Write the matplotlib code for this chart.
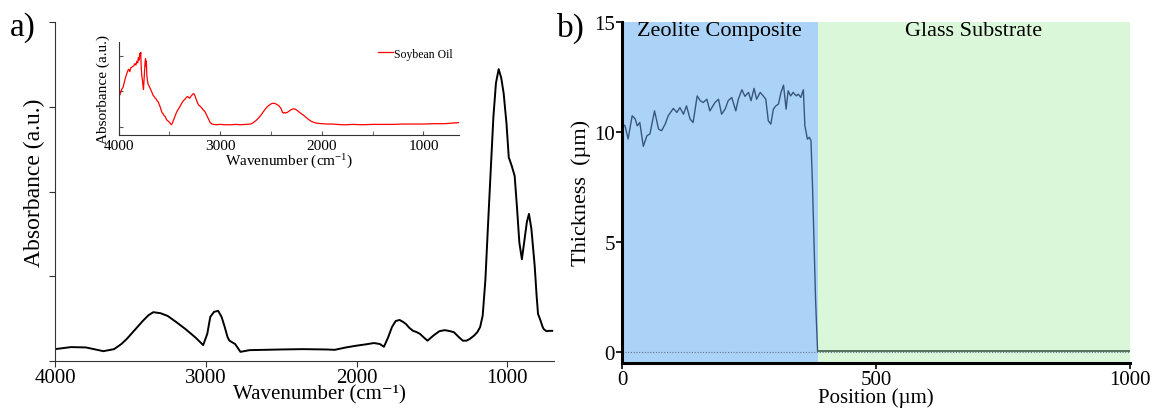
import matplotlib
matplotlib.use("Agg")
import matplotlib.pyplot as plt

plt.rcParams["font.family"] = ["Liberation Serif", "DejaVu Serif"]
plt.rcParams["mathtext.fontset"] = "custom"
plt.rcParams["mathtext.rm"] = "Liberation Serif"
plt.rcParams["mathtext.it"] = "Liberation Serif:italic"

# ---- panel a: FTIR of the composite ----
wn_main = [4000, 3894, 3795, 3679, 3608, 3560, 3524, 3470, 3418, 3380, 3348, 3300,
           3253, 3190, 3134, 3070, 3017, 2990, 2970, 2945, 2918, 2895, 2876, 2855,
           2843, 2805, 2770, 2710, 2500, 2356, 2200, 2144, 2070, 2003, 1940, 1884,
           1845, 1818, 1790, 1765, 1740, 1714, 1690, 1672, 1650, 1625, 1600, 1579,
           1550, 1529, 1490, 1450, 1414, 1380, 1354, 1320, 1295, 1270, 1249, 1220,
           1199, 1180, 1163, 1145, 1130, 1110, 1092, 1075, 1057, 1040, 1024, 1005,
           990, 986, 970, 951, 935, 920, 903, 885, 870, 856, 840, 818, 805, 796,
           780, 765, 758, 740, 720, 702]
abs_main = [0.035, 0.041, 0.040, 0.029, 0.035, 0.050, 0.065, 0.092, 0.118, 0.135, 0.144, 0.141,
            0.133, 0.113, 0.094, 0.070, 0.047, 0.080, 0.130, 0.145, 0.148, 0.130, 0.103, 0.070,
            0.060, 0.050, 0.027, 0.032, 0.034, 0.035, 0.034, 0.033, 0.040, 0.045, 0.049, 0.053,
            0.050, 0.042, 0.070, 0.100, 0.118, 0.121, 0.115, 0.109, 0.098, 0.089, 0.085, 0.080,
            0.068, 0.060, 0.075, 0.088, 0.091, 0.088, 0.085, 0.070, 0.060, 0.060, 0.065, 0.075,
            0.085, 0.100, 0.134, 0.240, 0.380, 0.560, 0.720, 0.820, 0.861, 0.835, 0.790, 0.700,
            0.600, 0.596, 0.575, 0.546, 0.450, 0.350, 0.300, 0.360, 0.410, 0.434, 0.390, 0.280,
            0.190, 0.139, 0.120, 0.100, 0.094, 0.088, 0.089, 0.089]

# ---- inset: soybean oil ----
wn_oil = [4000, 3985, 3970, 3956, 3940, 3925, 3910, 3900, 3890, 3880, 3870, 3860, 3850,
          3840, 3830, 3820, 3812, 3805, 3798, 3792, 3787, 3782, 3778, 3772, 3765, 3760,
          3755, 3750, 3745, 3740, 3735, 3730, 3727, 3722, 3716, 3710, 3700, 3690, 3680,
          3670, 3660, 3650, 3640, 3630, 3620, 3610, 3600, 3590, 3580, 3570, 3560, 3550,
          3540, 3530, 3520, 3510, 3500, 3490, 3480, 3470, 3460, 3450, 3440, 3430, 3420,
          3410, 3400, 3390, 3380, 3370, 3360, 3350, 3340, 3330, 3320, 3310, 3300, 3290,
          3280, 3270, 3260, 3250, 3240, 3230, 3220, 3210, 3200, 3190, 3180, 3170, 3160,
          3150, 3140, 3130, 3120, 3110, 3100, 3090, 3080, 3060, 3040, 3000, 2950, 2900,
          2850, 2800, 2750, 2700, 2680, 2660, 2640, 2620, 2600, 2580, 2560, 2540, 2520,
          2500, 2480, 2460, 2440, 2420, 2400, 2390, 2380, 2370, 2360, 2340, 2320, 2300,
          2280, 2260, 2240, 2220, 2200, 2180, 2160, 2140, 2120, 2100, 2080, 2060, 2040,
          2000, 1950, 1900, 1850, 1800, 1750, 1700, 1600, 1500, 1400, 1300, 1200, 1100,
          1000, 900, 800, 700, 650]
abs_oil = [0.80, 0.92, 1.05, 1.11, 1.30, 1.45, 1.58, 1.62, 1.55, 1.66, 1.68, 1.70, 1.72,
           1.78, 1.74, 1.85, 1.80, 1.95, 1.88, 2.07, 1.98, 2.10, 1.70, 1.45, 1.30, 1.15,
           1.05, 1.30, 1.60, 1.80, 1.92, 1.70, 1.85, 1.45, 1.30, 1.20, 1.15, 1.08, 1.02,
           0.95, 0.88, 0.85, 0.80, 0.78, 0.72, 0.70, 0.62, 0.55, 0.45, 0.38, 0.35, 0.30,
           0.28, 0.20, 0.17, 0.15, 0.12, 0.08, 0.05, 0.10, 0.18, 0.25, 0.33, 0.40, 0.46,
           0.50, 0.55, 0.60, 0.65, 0.70, 0.74, 0.76, 0.80, 0.83, 0.85, 0.82, 0.80, 0.85,
           0.88, 0.92, 0.93, 0.88, 0.80, 0.72, 0.65, 0.60, 0.58, 0.55, 0.52, 0.48, 0.45,
           0.42, 0.36, 0.30, 0.24, 0.18, 0.12, 0.09, 0.07, 0.06, 0.05, 0.06, 0.05, 0.05,
           0.06, 0.05, 0.06, 0.07, 0.10, 0.14, 0.19, 0.25, 0.32, 0.40, 0.48, 0.55, 0.60,
           0.64, 0.66, 0.65, 0.62, 0.58, 0.50, 0.42, 0.38, 0.40, 0.38, 0.40, 0.44, 0.48,
           0.50, 0.49, 0.45, 0.40, 0.36, 0.32, 0.27, 0.22, 0.18, 0.14, 0.12, 0.10, 0.09,
           0.08, 0.07, 0.07, 0.06, 0.05, 0.05, 0.06, 0.05, 0.06, 0.06, 0.06, 0.07, 0.07,
           0.07, 0.08, 0.08, 0.10, 0.11]

# ---- panel b: thickness profile ----
position = [1, 6, 12, 20, 26, 30, 35, 42, 49, 55, 64, 72, 78, 85, 91, 101, 108, 114,
            121, 127, 134, 140, 148, 154, 160, 167, 173, 183, 190, 196, 203, 209, 216,
            224, 229, 236, 242, 249, 254, 260, 265, 272, 278, 283, 288, 293, 298, 303,
            308, 313, 318, 323, 327, 332, 337, 343, 347, 352, 357, 360, 365, 369, 372,
            375, 381, 385]
thickness = [10.35, 10.27, 9.67, 10.73, 10.58, 10.27, 10.42, 9.34, 9.82, 9.90, 10.95,
             10.12, 10.05, 10.35, 10.73, 11.06, 10.88, 11.10, 10.80, 11.18, 10.58, 10.42,
             11.63, 11.41, 11.33, 11.48, 10.95, 11.33, 11.48, 10.80, 11.03, 11.41, 11.56,
             10.95, 11.48, 11.91, 11.61, 11.79, 11.41, 11.97, 11.48, 11.79, 11.63, 11.48,
             10.50, 10.35, 11.03, 11.18, 11.26, 11.79, 12.12, 11.03, 11.86, 11.63, 11.79,
             11.63, 11.71, 11.56, 11.91, 10.27, 9.67, 9.75, 9.59, 7.55, 2.40, 0.03]
substrate_pos = [385, 1000]
substrate_thk = [0.03, 0.03]
zeolite_end = 385

W, H = 1153, 410
fig = plt.figure(figsize=(W / 100, H / 100), dpi=100)


def box(l, t, r, b):
    return [l / W, 1 - b / H, (r - l) / W, (b - t) / H]


tick_fs = 15
lab_fs = 15

# main FTIR axes
ax = fig.add_axes(box(55, 23, 554, 362))
ax.plot(wn_main, abs_main, color="black", lw=1.4)
ax.set_xlim(4000, 690)
ax.set_ylim(0, 1)
ax.set_xticks([4000, 3000, 2000, 1000])
ax.set_yticks([0, 0.25, 0.5, 0.75, 1.0])
ax.set_yticklabels([])
for s in ["top", "right"]:
    ax.spines[s].set_visible(False)
for s in ["left", "bottom"]:
    ax.spines[s].set_color("#333333")
ax.tick_params(labelsize=tick_fs, direction="out", length=4, color="#333333", pad=1)
ax.set_xlabel("Wavenumber (cm⁻¹)", fontsize=lab_fs)
ax.xaxis.set_label_coords(0.53, -0.07)
ax.set_ylabel("Absorbance (a.u.)", fontsize=17)
ax.yaxis.set_label_coords(-0.02, 0.53)
fig.text(10 / W, 1 - 28 / H, "a)", fontsize=24, va="center", ha="left")

# inset
axi = fig.add_axes(box(118.6, 42.7, 459, 136))
axi.plot(wn_oil, abs_oil, color="red", lw=0.9, label="Soybean Oil")
axi.set_xlim(4000, 650)
axi.set_ylim(-0.24, 2.4)
axi.set_xticks([4000, 3000, 2000, 1000])
axi.set_xticks([3500, 2500, 1500], minor=True)
axi.set_yticks([0, 1, 2])
axi.set_yticklabels([])
for s in ["top", "right"]:
    axi.spines[s].set_visible(False)
for s in ["left", "bottom"]:
    axi.spines[s].set_color("#333333")
axi.tick_params(which="both", labelsize=11, direction="in", length=3, color="#555555", pad=3)
axi.set_xlabel("Wavenumber (cm$^{-1}$)", fontsize=11, labelpad=0)
axi.set_ylabel("Absorbance (a.u.)", fontsize=11, labelpad=3)
axi.legend(loc="upper right", frameon=False, fontsize=8.5, handlelength=1.3,
           handletextpad=0.1, borderaxespad=0.1)
axi.patch.set_alpha(0)

# thickness panel
axb = fig.add_axes(box(622, 22.7, 1130, 364))
axb.axvspan(0, zeolite_end, color="#abd3f7", lw=0, zorder=0)
axb.axvspan(zeolite_end, 1000, color="#daf7da", lw=0, zorder=0)
axb.axhline(0, color="#5b7590", lw=0.8, ls=(0, (1, 1.5)), zorder=1)
axb.plot(position, thickness, color="#2a4a6c", lw=1.0, alpha=0.9, zorder=2)
axb.plot(substrate_pos, substrate_thk, color="#4d6655", lw=1.3, zorder=2)
axb.set_xlim(0, 1000)
axb.set_ylim(-0.5, 15)
axb.set_xticks([0, 500, 1000])
axb.set_yticks([0, 5, 10, 15])
for s in ["top", "right"]:
    axb.spines[s].set_visible(False)
for s in ["left", "bottom"]:
    axb.spines[s].set_linewidth(2.2)
axb.tick_params(labelsize=tick_fs, direction="out", length=4, width=1.2, pad=1)
axb.set_xlabel("Position (µm)", fontsize=lab_fs)
axb.xaxis.set_label_coords(0.5, -0.07)
axb.set_ylabel("Thickness  (µm)", fontsize=16, labelpad=2)
axb.text(zeolite_end / 2, 14.6, "Zeolite Composite", ha="center", va="center", fontsize=16)
axb.text((zeolite_end + 1000) / 2, 14.6, "Glass Substrate", ha="center", va="center", fontsize=16)
fig.text(557 / W, 1 - 28 / H, "b)", fontsize=24, va="center", ha="left")

fig.savefig("out.png", dpi=100)
